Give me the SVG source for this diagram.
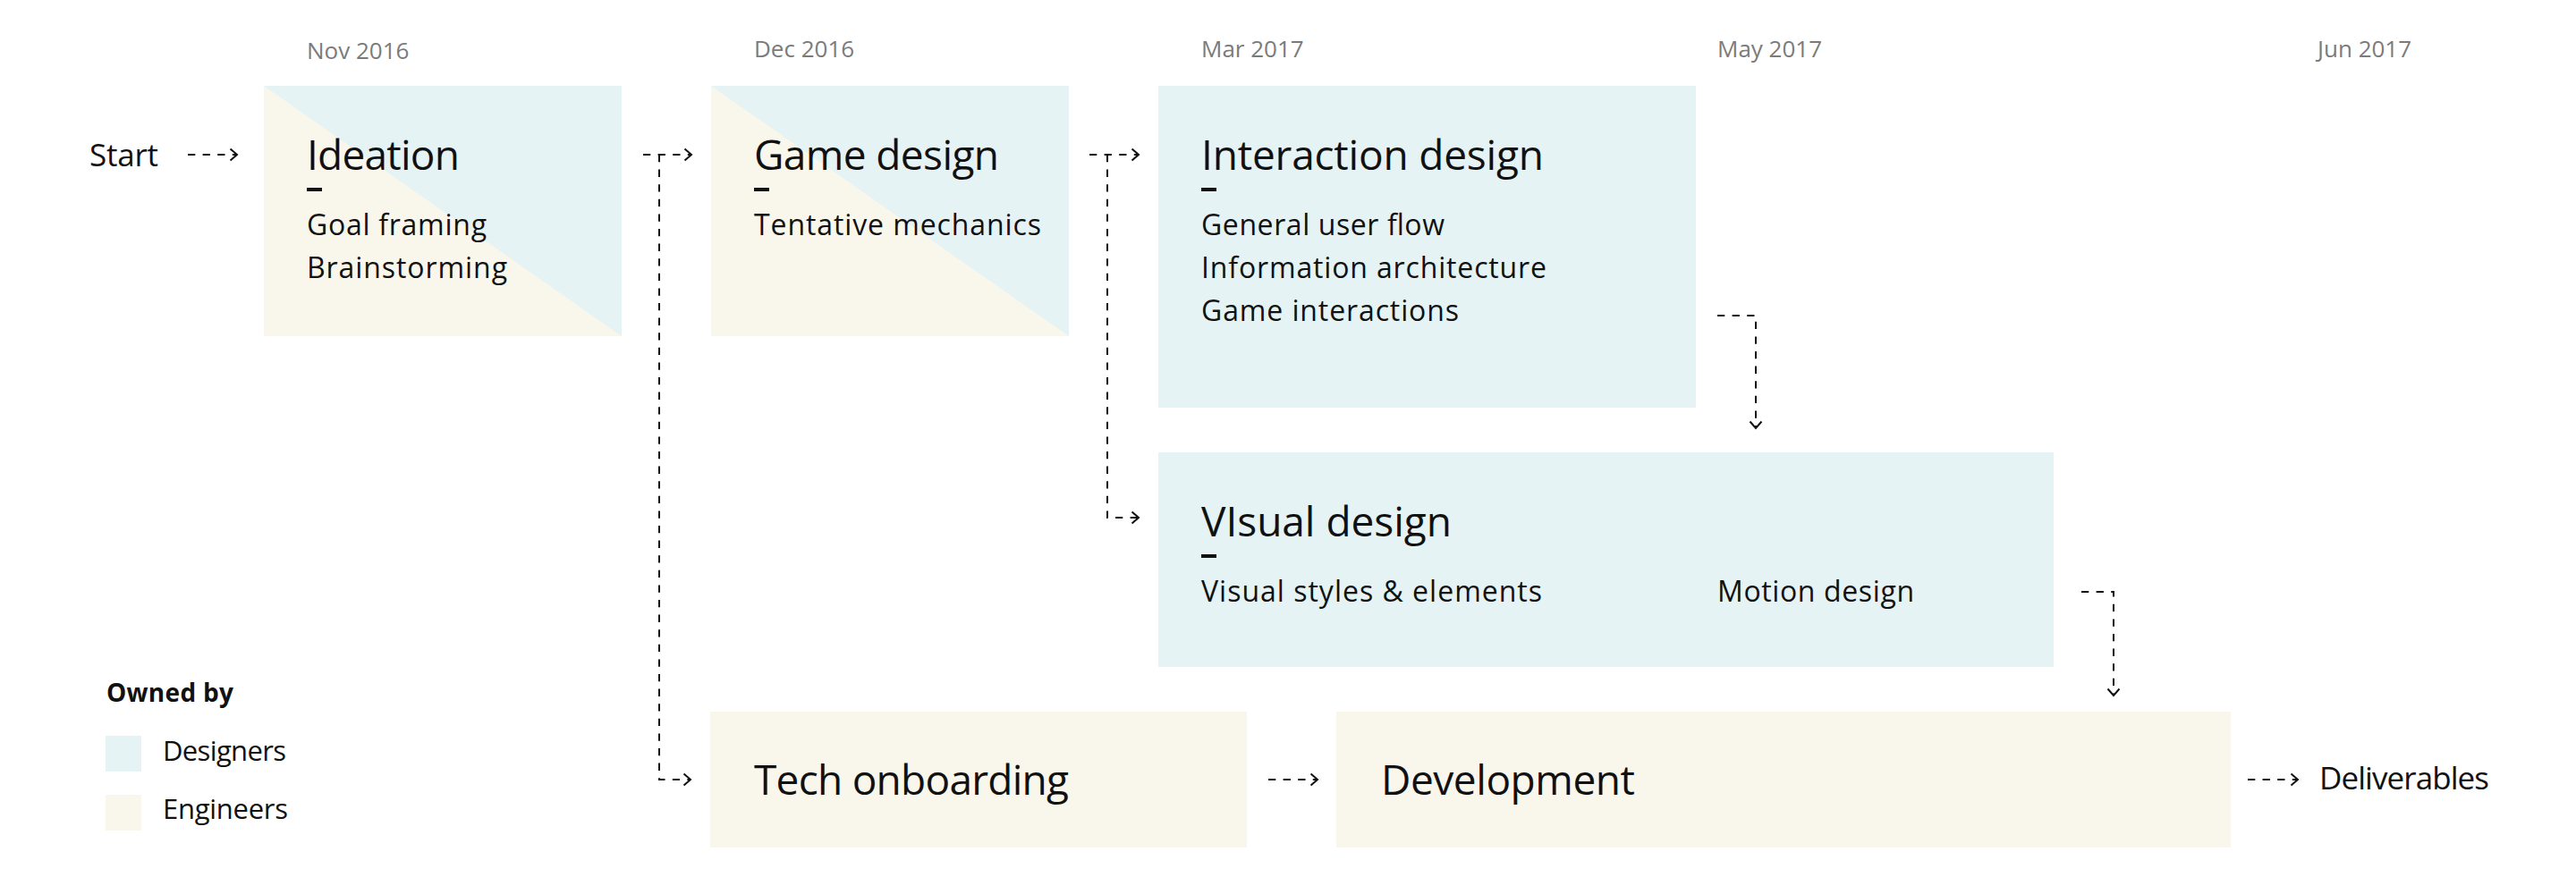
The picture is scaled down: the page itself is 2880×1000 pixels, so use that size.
<svg xmlns="http://www.w3.org/2000/svg" width="2880" height="1000" viewBox="0 0 2880 1000">
  <style>
    text { font-family: "Open Sans", "Liberation Sans", sans-serif; fill: #111111; }
    .date { font-size: 26px; fill: #7b7b7b; }
    .title { font-size: 46px; }
    .body { font-size: 32px; }
    .big { font-size: 35px; }
    .legend-title { font-size: 28px; font-weight: 700; }
    .blue { fill: #e5f3f4; }
    .cream { fill: #f9f6ec; }
    .dash { fill: #111111; }
    .conn { fill: none; stroke: #111111; stroke-width: 2; stroke-dasharray: 8.3 8.3; }
  </style>
  <defs>
    <marker id="chev" markerUnits="userSpaceOnUse" markerWidth="12" markerHeight="16" refX="9" refY="8" orient="auto" viewBox="0 0 12 16">
      <path d="M1.5,1.5 L9,8 L1.5,14.5" fill="none" stroke="#111111" stroke-width="2"/>
    </marker>
  </defs>
  <rect width="2880" height="1000" fill="#ffffff"/>

  <g id="timeline">
    <text class="date" x="343" y="66">Nov 2016</text>
    <text class="date" x="843" y="64">Dec 2016</text>
    <text class="date" x="1343" y="64">Mar 2017</text>
    <text class="date" x="1920" y="64">May 2017</text>
    <text class="date" x="2591" y="64">Jun 2017</text>
  </g>

  <g id="start">
    <text class="big" x="100" y="186" textLength="77">Start</text>
  </g>

  <g id="ideation">
    <rect class="cream" x="295" y="96" width="400" height="280"/>
    <polygon class="blue" points="295,96 695,96 695,376"/>
    <text class="title" x="343" y="190" textLength="171">Ideation</text>
    <rect class="dash" x="343" y="210" width="17" height="4"/>
    <text class="body" x="343" y="263" textLength="201">Goal framing</text>
    <text class="body" x="343" y="311" textLength="224">Brainstorming</text>
  </g>

  <g id="game-design">
    <rect class="cream" x="795" y="96" width="400" height="280"/>
    <polygon class="blue" points="795,96 1195,96 1195,376"/>
    <text class="title" x="843" y="190" textLength="274">Game design</text>
    <rect class="dash" x="843" y="210" width="17" height="4"/>
    <text class="body" x="843" y="263" textLength="321">Tentative mechanics</text>
  </g>

  <g id="interaction-design">
    <rect class="blue" x="1295" y="96" width="601" height="360"/>
    <text class="title" x="1343" y="190" textLength="383">Interaction design</text>
    <rect class="dash" x="1343" y="210" width="17" height="4"/>
    <text class="body" x="1343" y="263" textLength="272">General user flow</text>
    <text class="body" x="1343" y="311" textLength="386">Information architecture</text>
    <text class="body" x="1343" y="359" textLength="288">Game interactions</text>
  </g>

  <g id="visual-design">
    <rect class="blue" x="1295" y="506" width="1001" height="240"/>
    <text class="title" x="1343" y="600" textLength="280">VIsual design</text>
    <rect class="dash" x="1343" y="620" width="17" height="4"/>
    <text class="body" x="1343" y="673" textLength="381">Visual styles &amp; elements</text>
    <text class="body" x="1920" y="673" textLength="220">Motion design</text>
  </g>

  <g id="tech-onboarding">
    <rect class="cream" x="794" y="796" width="600" height="152"/>
    <text class="title" x="843" y="889" textLength="352">Tech onboarding</text>
  </g>

  <g id="development">
    <rect class="cream" x="1494" y="796" width="1000" height="152"/>
    <text class="title" x="1544" y="889" textLength="284">Development</text>
  </g>

  <g id="deliverables">
    <text class="big" x="2593" y="883" textLength="190">Deliverables</text>
  </g>

  <g id="legend">
    <text class="legend-title" x="119" y="785" textLength="142">Owned by</text>
    <rect class="blue" x="118" y="823" width="40" height="40"/>
    <text class="body" x="182" y="851" textLength="138" style="font-size:31px">Designers</text>
    <rect class="cream" x="118" y="889" width="40" height="40"/>
    <text class="body" x="182" y="916" textLength="140" style="font-size:31px">Engineers</text>
  </g>

  <g id="connectors">
    <path class="conn" d="M210,173 H265" marker-end="url(#chev)"/>
    <path class="conn" d="M719,173 H773" marker-end="url(#chev)"/>
    <path class="conn" d="M737,173 V872 H772" marker-end="url(#chev)"/>
    <path class="conn" d="M1218,173 H1273" marker-end="url(#chev)"/>
    <path class="conn" d="M1238,173 V579 H1273" marker-end="url(#chev)"/>
    <path class="conn" d="M1920,353 H1963 V479" marker-end="url(#chev)"/>
    <path class="conn" d="M2327,662 H2363 V778" marker-end="url(#chev)"/>
    <path class="conn" d="M1418,872 H1473" marker-end="url(#chev)"/>
    <path class="conn" d="M2513,872 H2569" marker-end="url(#chev)"/>
  </g>
</svg>
